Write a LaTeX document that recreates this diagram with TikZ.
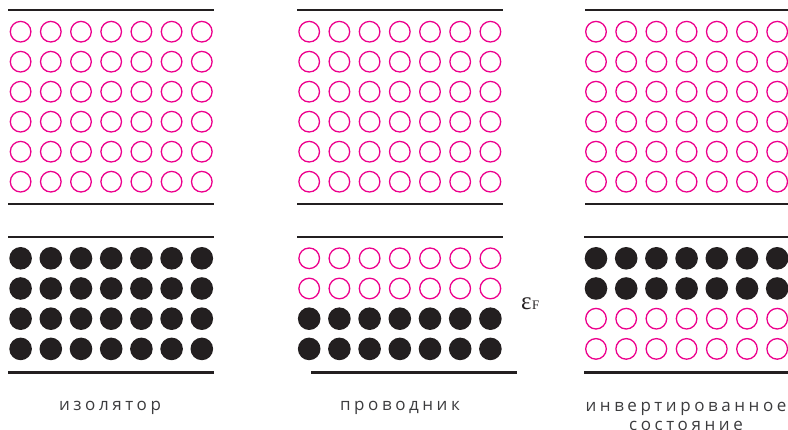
\documentclass[tikz,border=0pt]{standalone}
\usepackage{fontspec}
\newfontfamily\capfont[LetterSpace=21]{Open Sans}
\newfontfamily\symfont{Liberation Serif}
\usetikzlibrary{positioning}
\definecolor{holepink}{RGB}{236,0,140}
\definecolor{bandblack}{RGB}{35,31,32}
\definecolor{capgray}{RGB}{60,60,62}

\tikzset{
  bandedge/.style={draw=bandblack, line width=2.3pt},
  hole/.style={draw=holepink, line width=1.3pt},
  electron/.style={fill=bandblack},
  caption/.style={font=\capfont\fontsize{17}{19}\selectfont, text=capgray, align=center, inner sep=0pt, anchor=base}
}

\begin{document}
\begin{tikzpicture}[x=1pt, y=-1pt]
    \useasboundingbox (0,0) rectangle (788,430);

    % Insulator: empty conduction band, full valence band
    \draw[bandedge] (8,10) -- (214,10);
    \draw[bandedge] (8,204) -- (214,204);
    \foreach \i in {0,...,6}
        \foreach \j in {0,...,5}
            \draw[hole] (20.6+30.2*\i, 31.7+30*\j) circle[radius=10.3pt];
    \draw[bandedge] (8,237) -- (214,237);
    \draw[bandedge] (8,372.5) -- (214,372.5);
    \foreach \i in {0,...,6}
        \foreach \j in {0,...,3}
            \fill[electron] (20.6+30.2*\i, 258.3+30.2*\j) circle[radius=11.3pt];
    \node[caption] (insulator) at (110,411) {изолятор};

    % Conductor: band filled up to the Fermi level
    \draw[bandedge] (297,10) -- (503,10);
    \draw[bandedge] (297,204) -- (503,204);
    \foreach \i in {0,...,6}
        \foreach \j in {0,...,5}
            \draw[hole] (309.2+30.2*\i, 31.7+30*\j) circle[radius=10.3pt];
    \draw[bandedge] (297,237) -- (503,237);
    \draw[bandedge] (311,372.5) -- (517,372.5);
    \foreach \i in {0,...,6} {
        \foreach \j in {0,1}
            \draw[hole] (309.2+30.2*\i, 258.3+30.2*\j) circle[radius=10.3pt];
        \foreach \j in {2,3}
            \fill[electron] (309.2+30.2*\i, 258.3+30.2*\j) circle[radius=11.3pt];
    }
    \node[anchor=base west, inner sep=0pt, text=bandblack] (fermi) at (521,310)
        {\symfont\fontsize{25}{25}\selectfont ε\kern0.5pt\fontsize{13}{13}\selectfont F};
    \node[caption] (conductor) at (400,411) {проводник};

    % Inverted state: upper half of the band full
    \draw[bandedge] (585,10) -- (800,10);
    \draw[bandedge] (585,204) -- (800,204);
    \foreach \i in {0,...,6}
        \foreach \j in {0,...,5}
            \draw[hole] (596+30.2*\i, 31.7+30*\j) circle[radius=10.3pt];
    \draw[bandedge] (584,237) -- (800,237);
    \draw[bandedge] (584,372.5) -- (800,372.5);
    \foreach \i in {0,...,6} {
        \foreach \j in {0,1}
            \fill[electron] (596+30.2*\i, 258.3+30.2*\j) circle[radius=11.3pt];
        \foreach \j in {2,3}
            \draw[hole] (596+30.2*\i, 258.3+30.2*\j) circle[radius=10.3pt];
    }
    \node[caption] (inverted) at (686,431) {инвертированное\\состояние};
\end{tikzpicture}
\end{document}
